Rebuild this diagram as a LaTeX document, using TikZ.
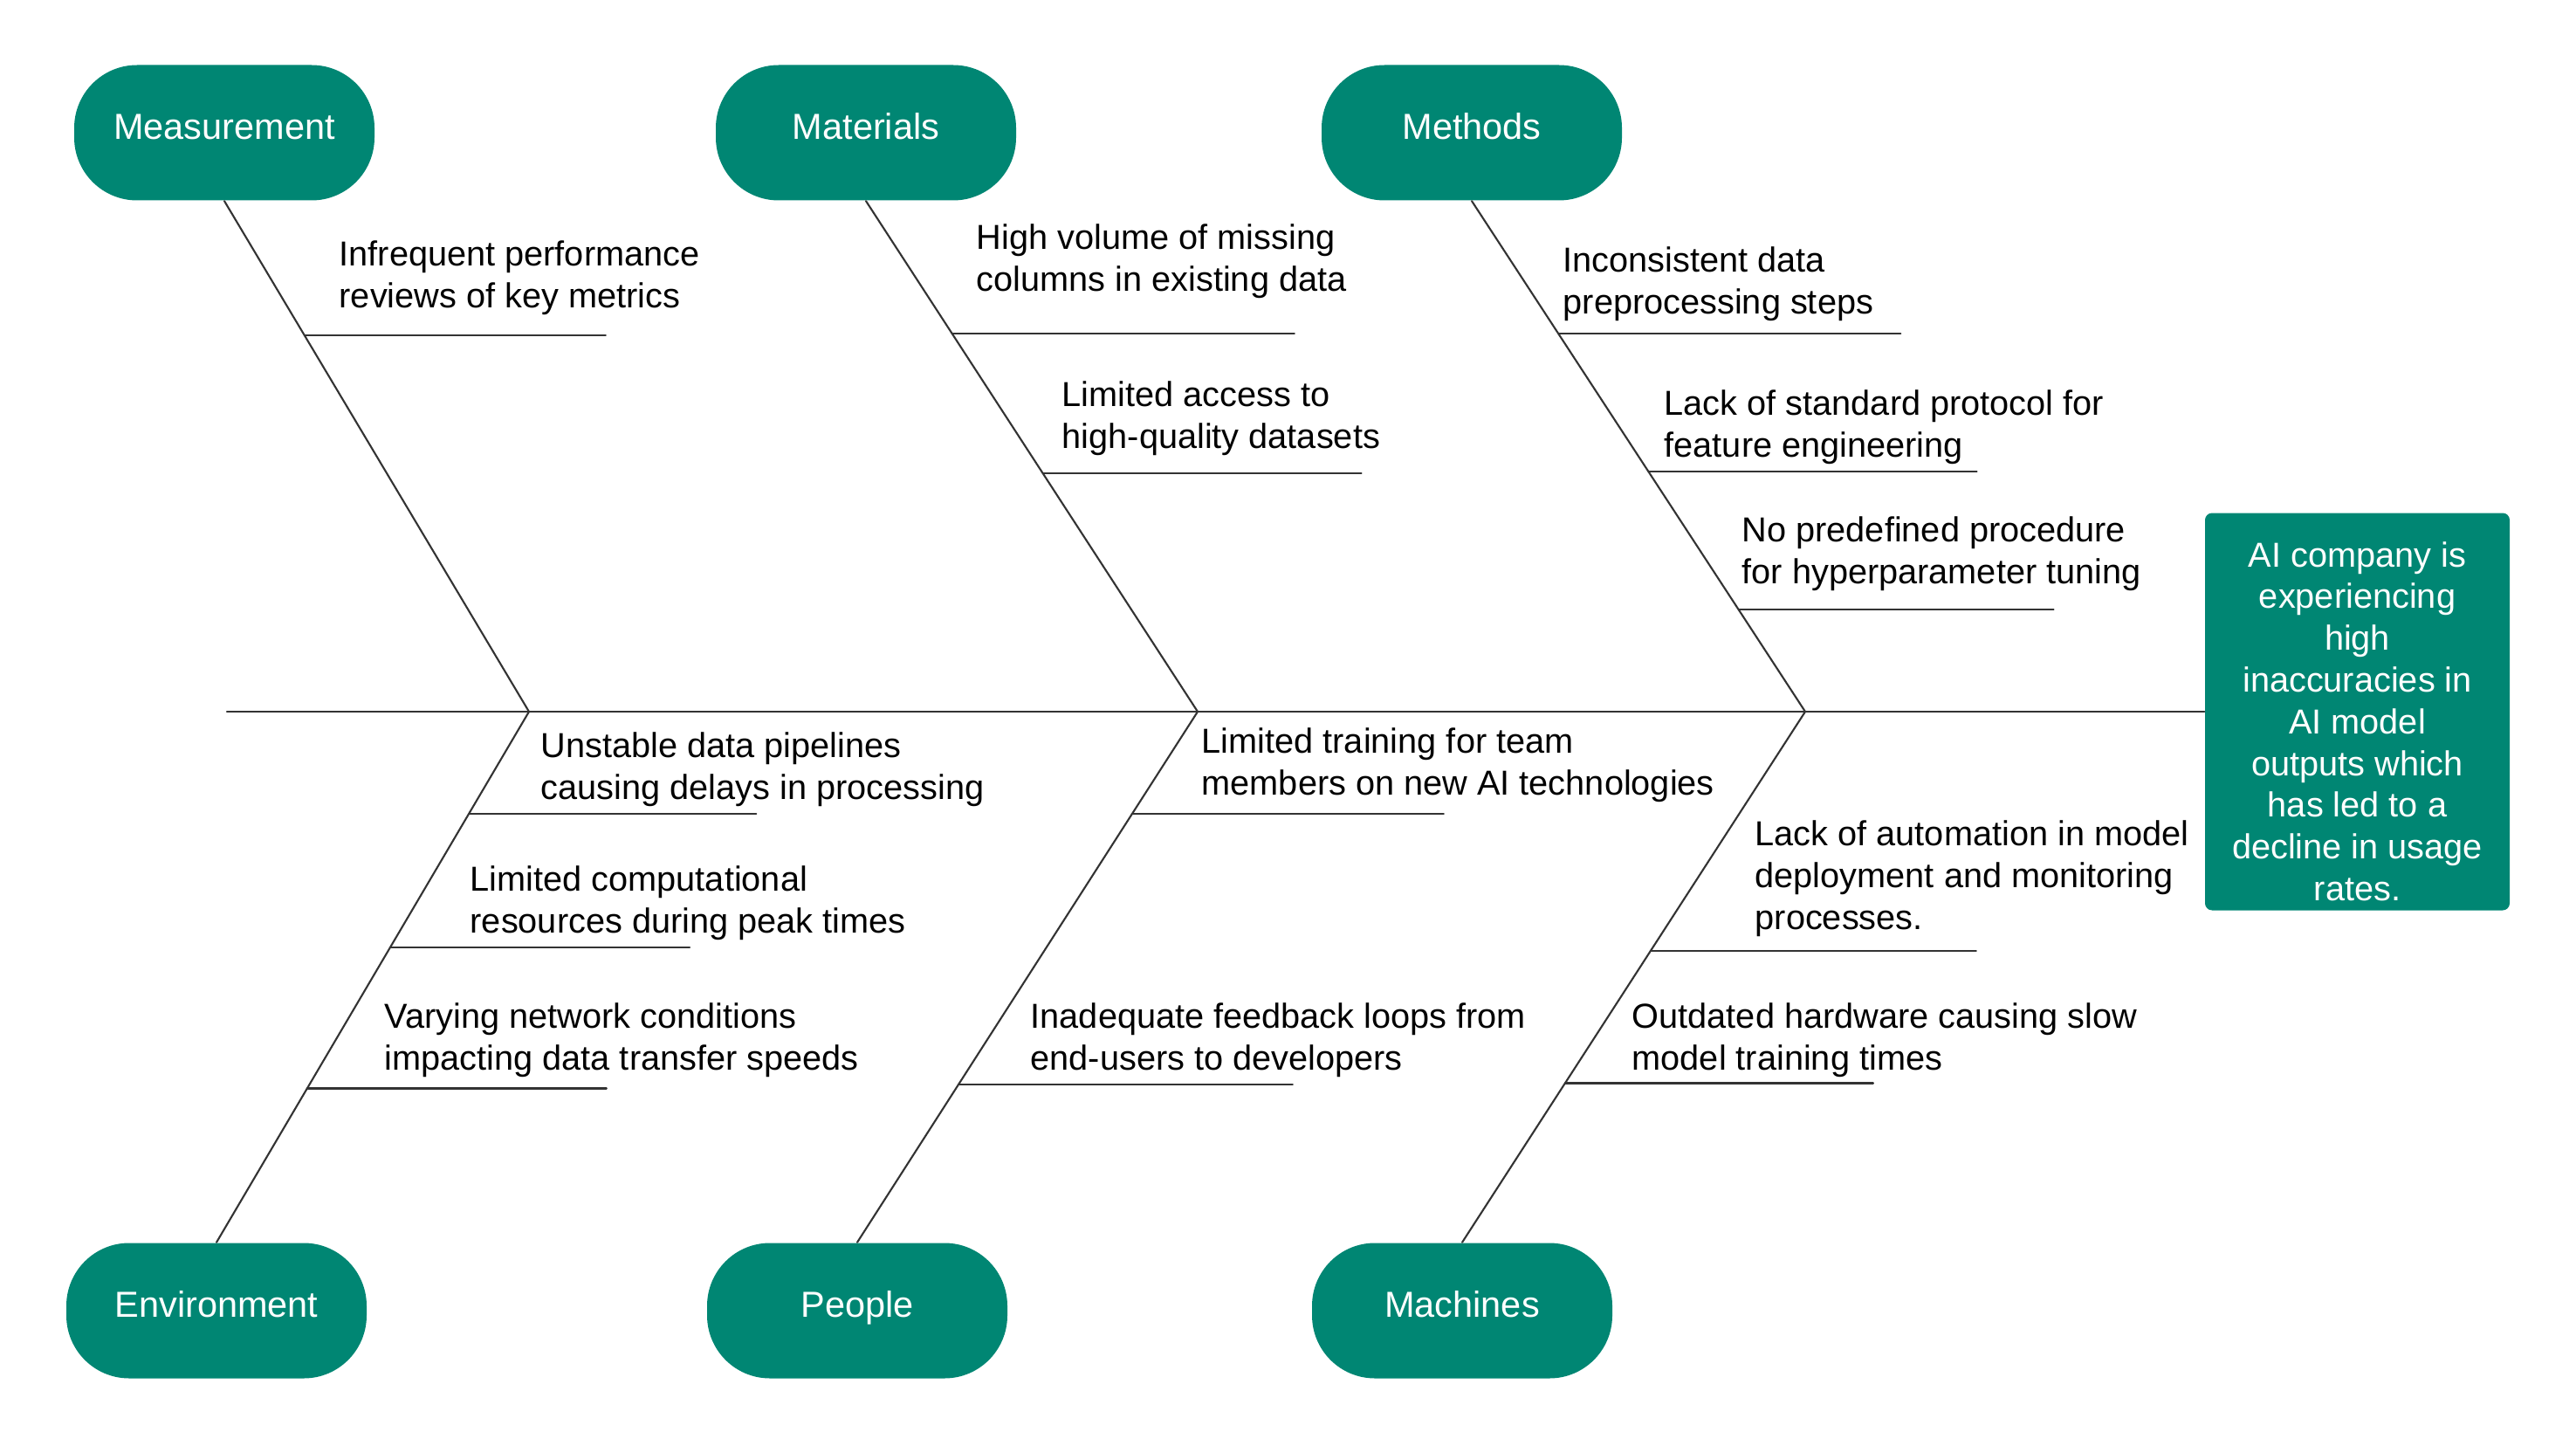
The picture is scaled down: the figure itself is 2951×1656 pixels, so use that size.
\documentclass[tikz,border=0pt]{standalone}
\usepackage{fontspec}
\setmainfont{Liberation Sans}
\usepackage{xcolor}
\usetikzlibrary{positioning,calc}
\newcommand{\fbcause}{\fontsize{11.3}{13.6}\selectfont}
\newcommand{\fbcat}{\fontsize{11.8}{14.2}\selectfont}
\definecolor{fbTeal}{RGB}{0,134,115}
\definecolor{fbInk}{RGB}{0,0,0}
\definecolor{fbLine}{RGB}{51,51,51}
\tikzset{
  fbCat/.style={fill=fbTeal, rounded corners=7.2mm, minimum width=34.4mm,
    minimum height=15.5mm, font=\fbcat, text=white, inner sep=0pt,
    text height=.72em, text depth=.27em},
  fbEffect/.style={fill=fbTeal, rounded corners=.8mm, minimum width=34.9mm,
    minimum height=45.5mm, inner sep=0pt},
  fbEffectText/.style={font=\fbcause, text=white, align=center, inner sep=0pt},
  fbCause/.style={font=\fbcause, text=fbInk, align=left, inner sep=0pt, anchor=west},
  fbBone/.style={draw=fbLine, line width=.6pt, line cap=round, line join=round},
  fbRib/.style={fbBone}
}

\begin{document}
\begin{tikzpicture}[x=0.1mm,y=-0.1mm]
\useasboundingbox (0,0) rectangle (2951,1656);
% categories and effect
\node[fbCat] (meas) at (257,152) {Measurement};
\node[fbCat] (mat) at (992,152) {Materials};
\node[fbCat] (meth) at (1686,152) {Methods};
\node[fbCat] (env) at (248,1501) {Environment};
\node[fbCat] (ppl) at (982,1501) {People};
\node[fbCat] (mach) at (1675,1501) {Machines};
\node[fbEffect] (effect) at (2700.5,815) {};
\node[fbEffectText] (effectText) at (2700.5,826) {AI company is\\experiencing\\high\\inaccuracies in\\AI model\\outputs which\\has led to a\\decline in usage\\rates.};
% spine
\coordinate (tail) at (260,815);
\coordinate (j1) at (606,815);
\coordinate (j2) at (1372,815);
\coordinate (j3) at (2068,815);
\draw[fbBone] (tail) -- (effect.west);
% bones
\draw[fbBone] (meas.south) -- (j1) coordinate[pos=.263] (m1);
\draw[fbBone] (mat.south) -- (j2) coordinate[pos=.260] (t1) coordinate[pos=.533] (t2);
\draw[fbBone] (meth.south) -- (j3) coordinate[pos=.260] (h1) coordinate[pos=.530] (h2) coordinate[pos=.800] (h3);
\draw[fbBone] (j1) -- (env.north) coordinate[pos=.192] (e1) coordinate[pos=.444] (e2) coordinate[pos=.710] (e3);
\draw[fbBone] (j2) -- (ppl.north) coordinate[pos=.193] (p1) coordinate[pos=.703] (p2);
\draw[fbBone] (j3) -- (mach.north) coordinate[pos=.451] (k1) coordinate[pos=.700] (k2);
% ribs
\draw[fbRib] (m1) -- ++(345,0);
\draw[fbRib] (t1) -- ++(392,0);
\draw[fbRib] (t2) -- ++(365,0);
\draw[fbRib] (h1) -- ++(392,0);
\draw[fbRib] (h2) -- ++(376,0);
\draw[fbRib] (h3) -- ++(361,0);
\draw[fbRib] (e1) -- ++(329,0);
\draw[fbRib] (e2) -- ++(343,0);
\draw[fbRib] (e3) -- ++(343,0);
\draw[fbRib] (p1) -- ++(357,0);
\draw[fbRib] (p2) -- ++(383,0);
\draw[fbRib] (k1) -- ++(373,0);
\draw[fbRib] (k2) -- ++(353,0);
% causes
\node[fbCause] (cm1) at (388,318) {Infrequent performance\\reviews of key metrics};
\node[fbCause] (ct1) at (1118,299) {High volume of missing\\columns in existing data};
\node[fbCause] (ct2) at (1216,479) {Limited access to\\high-quality datasets};
\node[fbCause] (ch1) at (1790,325) {Inconsistent data\\preprocessing steps};
\node[fbCause] (ch2) at (1906,489) {Lack of standard protocol for\\feature engineering};
\node[fbCause] (ch3) at (1995,634) {No predefined procedure\\for hyperparameter tuning};
\node[fbCause] (ce1) at (619,881) {Unstable data pipelines\\causing delays in processing};
\node[fbCause] (ce2) at (538,1034) {Limited computational\\resources during peak times};
\node[fbCause] (ce3) at (440,1191) {Varying network conditions\\impacting data transfer speeds};
\node[fbCause] (cp1) at (1376,876) {Limited training for team\\members on new AI technologies};
\node[fbCause] (cp2) at (1180,1191) {Inadequate feedback loops from\\end-users to developers};
\node[fbCause] (ck1) at (2010,1006) {Lack of automation in model\\deployment and monitoring\\processes.};
\node[fbCause] (ck2) at (1869,1191) {Outdated hardware causing slow\\model training times};
\end{tikzpicture}
\end{document}
